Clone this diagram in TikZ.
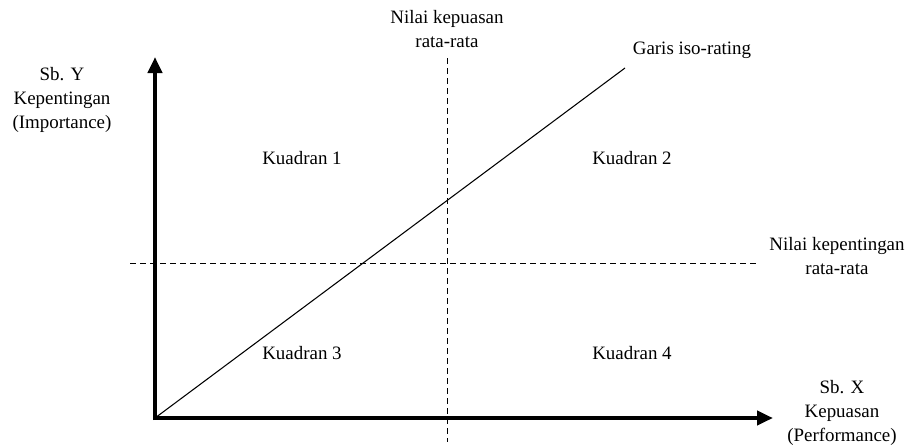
\documentclass[tikz,border=0pt]{standalone}
\usepackage{fontspec}
\setmainfont{Liberation Serif}
\usetikzlibrary{arrows.meta, calc}

\begin{document}
\begin{tikzpicture}[x=0.75pt, y=-0.75pt, font=\fontsize{14.2}{18}\selectfont]
            \useasboundingbox (0,0) rectangle (909,446);
            \tikzset{axis/.style={line width=3.6pt, -{Triangle[length=12pt, width=10.5pt]}},
                     avg/.style={line width=0.7pt, dash pattern=on 4.5pt off 3pt},
                     lbl/.style={align=center, inner sep=0pt}}

            \coordinate (O) at (155, 418);
            \coordinate (Ytip) at (155, 57);
            \coordinate (Xtip) at (773, 418);

            % rata-rata lines
            \coordinate (Vtop) at (447, 58);
            \coordinate (Vbot) at (447, 442);
            \coordinate (Hleft) at (130, 263);
            \coordinate (Hright) at (758, 263);
            \draw[avg] (Vtop) -- (Vbot);
            \draw[avg] (Hleft) -- (Hright);

            % iso-rating
            \coordinate (Iso) at (625, 68);
            \draw[line width=0.8pt] (O) -- (Iso);

            \draw[axis] ($(O)+(0,2)$) -- (Ytip);
            \draw[axis] ($(O)+(-2,0)$) -- (Xtip);

            \node[lbl] (kepuasan) at (447, 29) {Nilai kepuasan\\rata-rata};
            \node[lbl] (iso) at (692, 50) {Garis iso-rating};
            \node[lbl] (sby) at (62, 100) {Sb. Y\\Kepentingan\\(Importance)};
            \node[lbl] (kepentingan) at (837, 256) {Nilai kepentingan\\rata-rata};
            \node[lbl] (sbx) at (842, 413) {Sb. X\\Kepuasan\\(Performance)};

            \node[lbl] (k1) at (302, 158) {Kuadran 1};
            \node[lbl] (k2) at (632, 158) {Kuadran 2};
            \node[lbl] (k3) at (302, 353) {Kuadran 3};
            \node[lbl] (k4) at (632, 353) {Kuadran 4};
\end{tikzpicture}
\end{document}
